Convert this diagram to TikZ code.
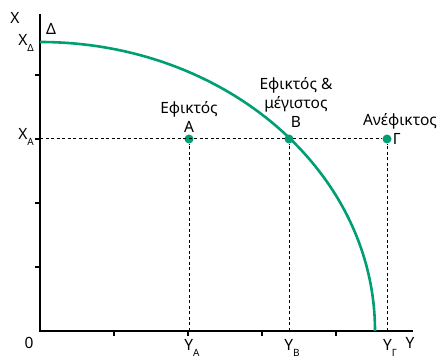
\documentclass[tikz,border=0pt]{standalone}
\usepackage{fontspec}
\setmainfont{Noto Sans}
\usetikzlibrary{positioning}
\definecolor{ppfgreen}{RGB}{0,158,115}
\newcommand{\lowsub}[1]{\raisebox{-0.4em}{\fontsize{10}{10}\selectfont #1}}

\begin{document}
\begin{tikzpicture}[  x = 1pt,  y = 1pt,  font = \fontsize{15.5}{19}\selectfont,
  axis/.style = {line width=2.6pt},
  axtick/.style = {line width=2pt},
  guide/.style = {line width=1pt, dash pattern=on 3pt off 2.5pt},
  point/.style = {circle, fill=ppfgreen, inner sep=0pt, minimum size=9pt},
  lbl/.style = {inner sep=0pt, align=center}]
  \useasboundingbox (0,0) rectangle (445,359);
  % Define coordinates
  \coordinate (O) at (40,28);
  \coordinate (Xtop) at (40,345);
  \coordinate (Yend) at (413,28);
  \coordinate (XD) at (40,317);
  \coordinate (XA) at (40,220);
  \coordinate (YA) at (189,28);
  \coordinate (YB) at (289,28);
  \coordinate (YG) at (387,28);

  % Define points
  \node[point] (A) at (189,220) {};
  \node[point] (B) at (289,220) {};
  \node[point] (G) at (387,220) {};

  % Draw guides
  \draw[guide] (XA) -- (G);
  \draw[guide] (YA) -- (A);
  \draw[guide] (YB) -- (B);
  \draw[guide] (YG) -- (G);

  % Draw axes and ticks
  \foreach \k in {1,...,4} {
    \draw[axtick] (40+74*\k,28) -- ++(0,-5);
    \draw[axtick] (40,28+64*\k) -- ++(-5,0);
  }
  \draw[axis, line join=miter] (Xtop) -- (O) -- (Yend);

  % Draw frontier
  \draw[ppfgreen, line width=2.6pt] (XD) arc[start angle=90, end angle=0, x radius=335pt, y radius=289pt];

  % Axis labels
  \node[lbl] (xlab) at (15,341) {X};
  \node[lbl] (ylab) at (410,16) {Y};
  \node[lbl] (zero) at (29,16) {0};
  \node[lbl] (delta) at (51,330) {Δ};
  \node[lbl, anchor=east] (xdlab) at (34,316) {X\lowsub{Δ}};
  \node[lbl, anchor=east] (xalab) at (34,222) {X\lowsub{A}};
  \node[lbl, below=8pt of YA, xshift=3pt] (yalab) {Y\lowsub{A}};
  \node[lbl, below=8pt of YB, xshift=3pt] (yblab) {Y\lowsub{B}};
  \node[lbl, below=8pt of YG, xshift=3pt] (yglab) {Y\lowsub{Γ}};

  % Point labels
  \node[lbl, above=2pt of A] (alab) {Εφικτός\\A};
  \node[lbl, above=7pt of B, xshift=7pt] (blab) {Εφικτός \&\\μέγιστος\\B};
  \node[lbl, right=1pt of G] (glab) {Γ};
  \node[lbl, above=5pt of G, xshift=13pt] (glab2) {Ανέφικτος};
\end{tikzpicture}
\end{document}
